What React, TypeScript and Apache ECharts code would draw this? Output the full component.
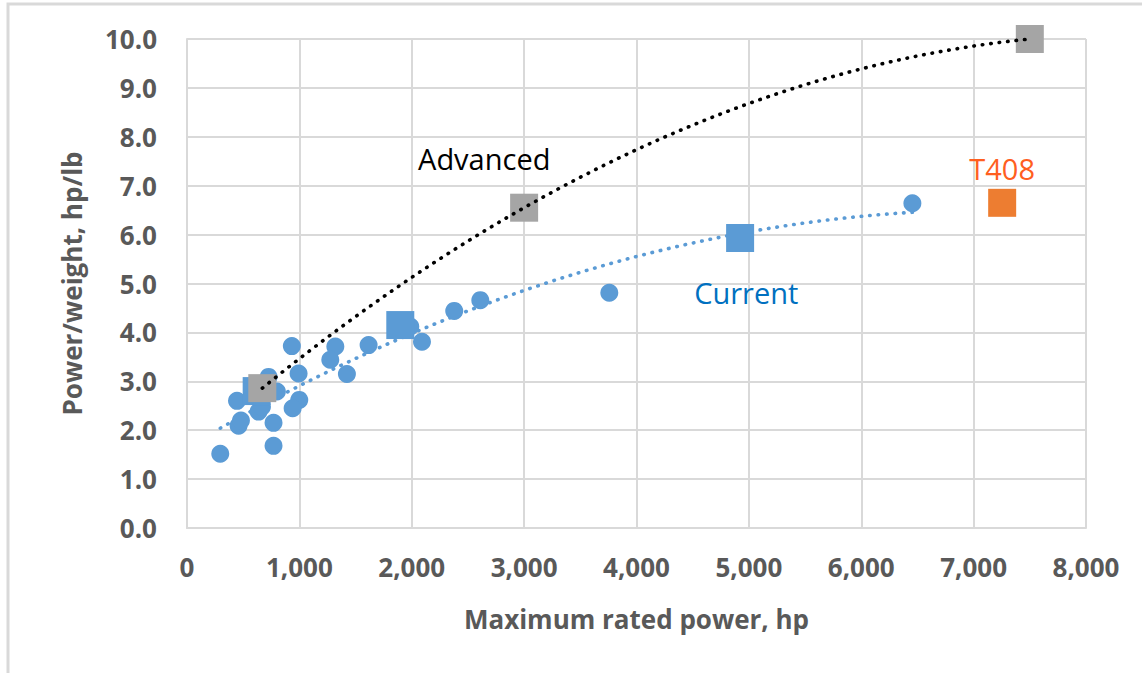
import React, { useEffect, useRef } from "react";
import * as echarts from "echarts";

// Current engines: [maximum rated power (hp), power/weight (hp/lb)]
const currentEngines: [number, number][] = [
  [296, 1.52], [770, 1.68], [459, 2.09], [480, 2.2], [770, 2.15], [445, 2.6],
  [637, 2.38], [667, 2.48], [726, 3.09], [993, 3.16], [999, 2.62], [940, 2.45],
  [800, 2.79], [933, 3.72], [1320, 3.71], [1275, 3.44], [1423, 3.15], [1616, 3.74],
  [2091, 3.81], [1987, 4.12], [2378, 4.44], [2610, 4.66], [3758, 4.81], [6455, 6.64],
];
// Highlighted current engines (squares)
const currentHighlights: [number, number][] = [[620, 2.8], [1898, 4.15], [4922, 5.93]];
// Advanced engine goals
const advancedPoints: [number, number][] = [[670, 2.86], [3000, 6.55], [7500, 10.0]];
// T408
const t408Point: [number, number][] = [[7254, 6.65]];

// Text annotations placed in data coordinates
const advancedLabel: [number, number] = [2645, 7.55];
const currentLabel: [number, number] = [4977, 4.81];

const xTickValues = [0, 1000, 2000, 3000, 4000, 5000, 6000, 7000, 8000];
const yTickValues = [0, 1, 2, 3, 4, 5, 6, 7, 8, 9, 10];

// Second-order polynomial least-squares trendline (as in the spreadsheet trendline)
function quadFit(pts: [number, number][]): [number, number, number] {
  let s0 = 0, s1 = 0, s2 = 0, s3 = 0, s4 = 0, t0 = 0, t1 = 0, t2 = 0;
  for (const [xr, y] of pts) {
    const x = xr / 1000;
    s0 += 1; s1 += x; s2 += x * x; s3 += x * x * x; s4 += x * x * x * x;
    t0 += y; t1 += x * y; t2 += x * x * y;
  }
  const A = [
    [s0, s1, s2, t0],
    [s1, s2, s3, t1],
    [s2, s3, s4, t2],
  ];
  for (let i = 0; i < 3; i++) {
    let p = i;
    for (let r = i + 1; r < 3; r++) if (Math.abs(A[r][i]) > Math.abs(A[p][i])) p = r;
    [A[i], A[p]] = [A[p], A[i]];
    for (let r = 0; r < 3; r++) {
      if (r === i) continue;
      const f = A[r][i] / A[i][i];
      for (let c = i; c < 4; c++) A[r][c] -= f * A[i][c];
    }
  }
  return [A[0][3] / A[0][0], A[1][3] / A[1][1], A[2][3] / A[2][2]];
}

function trend(pts: [number, number][], steps = 80): [number, number][] {
  const [c0, c1, c2] = quadFit(pts);
  const xs = pts.map((p) => p[0]);
  const lo = Math.min(...xs), hi = Math.max(...xs);
  const out: [number, number][] = [];
  for (let i = 0; i <= steps; i++) {
    const xr = lo + ((hi - lo) * i) / steps;
    const x = xr / 1000;
    out.push([xr, c0 + c1 * x + c2 * x * x]);
  }
  return out;
}

const FONT = "'Open Sans', 'Noto Sans', sans-serif";
const GRAY_TEXT = "#595959";
const GRID = "#D9D9D9";
const BLUE = "#5B9BD5";

export default function App() {
  const ref = useRef<HTMLDivElement>(null);
  useEffect(() => {
    if (!ref.current) return;
    const chart = echarts.init(ref.current, undefined, { renderer: "svg" });
    const dotted = (color: string) => ({
      color,
      width: 3.6,
      type: [0.5, 8] as number[],
      cap: "round" as const,
      opacity: 1,
    });
    chart.setOption({
      animation: false,
      backgroundColor: "#ffffff",
      textStyle: { fontFamily: FONT },
      grid: { left: 187, right: 56, top: 39, bottom: 145, containLabel: false },
      graphic: [
        {
          type: "rect",
          shape: { x: 8, y: 4, width: 1160, height: 700 },
          style: { fill: "none", stroke: GRID, lineWidth: 3 },
          silent: true,
          z: -10,
        },
      ],
      xAxis: {
        type: "value",
        min: xTickValues[0],
        max: xTickValues[xTickValues.length - 1],
        interval: 1000,
        name: "Maximum rated power, hp",
        nameLocation: "middle",
        nameGap: 78,
        nameTextStyle: { fontFamily: FONT, fontSize: 26, fontWeight: "bold", color: GRAY_TEXT },
        axisLine: { show: true, lineStyle: { color: GRID, width: 2 } },
        axisTick: { show: false },
        splitLine: { show: true, lineStyle: { color: GRID, width: 2 } },
        axisLabel: {
          margin: 26,
          fontFamily: FONT,
          fontSize: 26,
          fontWeight: "bold",
          color: GRAY_TEXT,
          formatter: (v: number) => v.toLocaleString("en-US"),
        },
      },
      yAxis: {
        type: "value",
        min: yTickValues[0],
        max: yTickValues[yTickValues.length - 1],
        interval: 1,
        name: "Power/weight, hp/lb",
        nameLocation: "middle",
        nameGap: 102,
        nameRotate: 90,
        nameTextStyle: { fontFamily: FONT, fontSize: 26, fontWeight: "bold", color: GRAY_TEXT },
        axisLine: { show: true, lineStyle: { color: GRID, width: 2 } },
        axisTick: { show: false },
        splitLine: { show: true, lineStyle: { color: GRID, width: 2 } },
        axisLabel: {
          margin: 30,
          fontFamily: FONT,
          fontSize: 26,
          fontWeight: "bold",
          color: GRAY_TEXT,
          formatter: (v: number) => v.toFixed(1),
        },
      },
      series: [
        {
          name: "Current trend",
          type: "line",
          data: trend([...currentEngines, ...currentHighlights]),
          showSymbol: false,
          symbol: "none",
          lineStyle: dotted(BLUE),
          z: 2,
        },
        {
          name: "Current",
          type: "scatter",
          data: currentEngines,
          symbol: "circle",
          symbolSize: 18,
          itemStyle: { color: BLUE, opacity: 1 },
          z: 3,
        },
        {
          name: "Current highlights",
          type: "scatter",
          data: currentHighlights,
          symbol: "rect",
          symbolSize: 28,
          itemStyle: { color: BLUE, opacity: 1 },
          z: 4,
        },
        {
          name: "Advanced",
          type: "scatter",
          data: advancedPoints,
          symbol: "rect",
          symbolSize: 28,
          itemStyle: { color: "#A5A5A5", opacity: 1 },
          z: 5,
        },
        {
          name: "Advanced trend",
          type: "line",
          data: trend(advancedPoints),
          showSymbol: false,
          symbol: "none",
          lineStyle: dotted("#000000"),
          z: 6,
        },
        {
          name: "T408",
          type: "scatter",
          data: t408Point,
          symbol: "rect",
          symbolSize: 28,
          itemStyle: { color: "#ED7D31", opacity: 1 },
          label: {
            show: true,
            position: "top",
            distance: 6,
            formatter: "T408",
            fontFamily: FONT,
            fontSize: 29,
            color: "#FF5F1F",
          },
          z: 7,
        },
        {
          name: "Labels",
          type: "scatter",
          symbolSize: 0,
          silent: true,
          itemStyle: { opacity: 1 },
          data: [
            { value: advancedLabel, name: "Advanced", label: { color: "#000000" } },
            { value: currentLabel, name: "Current", label: { color: "#0070C0" } },
          ],
          label: {
            show: true,
            position: "inside",
            formatter: "{b}",
            fontFamily: FONT,
            fontSize: 29,
          },
          z: 8,
        },
      ],
    });
    return () => chart.dispose();
  }, []);
  return (
    <div
      ref={ref}
      style={{ position: "absolute", left: 0, top: 0, width: 1142, height: 673 }}
    />
  );
}
